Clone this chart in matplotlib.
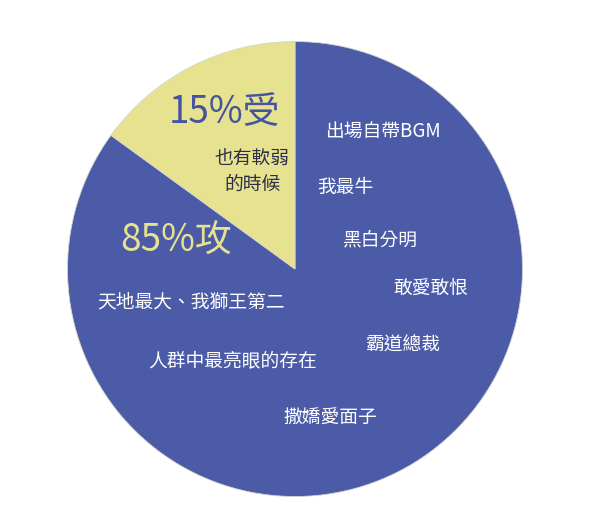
import matplotlib
matplotlib.use("Agg")
import matplotlib.pyplot as plt

plt.rcParams["font.family"] = ["Noto Sans CJK TC", "DejaVu Sans"]

# data
categories = ["攻", "受"]
shares = [85, 15]
big_labels = ["85%攻", "15%受"]
yellow_note = "也有軟弱\n的時候"
blue_traits = ["出場自帶BGM", "我最牛", "黑白分明", "敢愛敢恨", "天地最大、我獅王第二",
               "霸道總裁", "人群中最亮眼的存在", "撒嬌愛面子"]

BLUE = "#4b5ba8"
YELLOW = "#e6e28f"
DARK = "#2b2f4a"

# pixel layout of the reference (600x520): pie centre and radius
CX, CY, R = 295, 269, 227.5
W, H = 600, 520


def px(x, y):
    return (x - CX) / R, (CY - y) / R


fig = plt.figure(figsize=(6, 5.2), dpi=100)
ax = fig.add_axes([0, 0, 1, 1])
ax.pie(shares, colors=[BLUE, YELLOW], startangle=90, counterclock=False, radius=1,
       wedgeprops={"edgecolor": "#d6d6cc", "linewidth": 0.6})
ax.set_xlim(-CX / R, (W - CX) / R)
ax.set_ylim((CY - H) / R, CY / R)
ax.set_aspect("auto")
ax.axis("off")

# big percentage labels
ax.text(*px(224, 113), big_labels[1], color="#44549e", fontsize=26.5, ha="center", va="center")
ax.text(*px(176, 241), big_labels[0], color=YELLOW, fontsize=26.5, ha="center", va="center")
ax.text(*px(252, 171), yellow_note, color=DARK, fontsize=13.5, ha="center", va="center",
        linespacing=1.3, fontweight="medium")

# traits inside the blue slice (left edge, centre y)
trait_pos = [(325, 131), (317, 187), (343, 240), (393, 288), (97, 302),
             (365, 345), (148, 362), (283, 418)]
for text, (x, y) in zip(blue_traits, trait_pos):
    ax.text(*px(x, y), text, color="white", fontsize=13.5, ha="left", va="center",
            fontweight="medium")

fig.savefig("out.png", dpi=100, facecolor="white")
